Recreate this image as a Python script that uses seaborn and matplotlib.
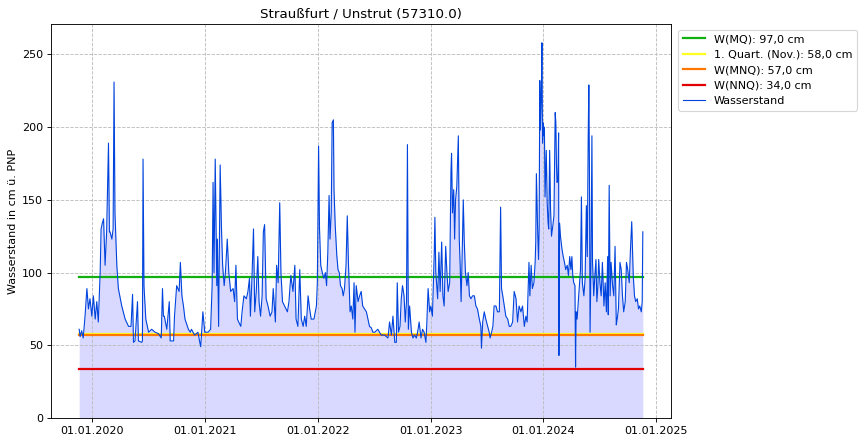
import numpy as np
import pandas as pd
import matplotlib
matplotlib.use("Agg")
import matplotlib.pyplot as plt
import matplotlib.dates as mdates
import seaborn as sns

title = "Straußfurt / Unstrut (57310.0)"
ylabel = "Wasserstand in cm ü. PNP"
base_date = "2020-01-01"

# days since base_date
day_offsets = [
    -43, -40, -35, -30, -24, -18, -13, -8, -2, 3, 9, 14, 19, 25, 28, 32, 36, 41, 46, 52, 55, 57, 63, 67, 70, 73, 79, 84,
    95, 106, 117, 125, 130, 133, 138, 146, 149, 160, 162, 164, 167, 173, 182, 192, 203, 214, 223, 227, 230, 233, 241,
    249, 252, 257, 263, 266, 273, 281, 285, 290, 295, 300, 311, 317,
    321, 331, 342, 348, 351, 358, 364, 375, 383, 388, 391, 394, 398, 403, 405, 409, 414, 418, 422, 427, 431, 437, 442,
    448, 456, 461, 465, 470, 474, 481, 485, 491, 499, 504, 509, 512, 517, 522, 526, 531, 536, 540, 545, 550, 554, 558,
    563, 569, 576, 582, 586, 593, 597, 602, 607, 611, 616, 623, 632, 637, 643, 650, 656, 660, 666, 672, 677, 683,
    688, 693, 699, 704, 709, 718, 726, 729, 733, 736, 740, 745, 750, 755, 759, 763, 767, 770, 774, 777, 781, 783, 787,
    792, 796, 800, 804, 809, 813, 817, 822, 826, 830, 835, 839, 844, 848, 851, 855, 861, 866, 871, 876, 882, 888, 893,
    898, 904, 909, 915, 925, 936, 947, 958, 963, 969, 974, 980, 985, 988, 992, 997, 1001, 1005, 1010, 1014, 1018, 1021,
    1024, 1028, 1034, 1039, 1044, 1050,
    1054, 1059, 1065, 1070, 1075, 1081, 1084, 1088, 1093, 1097, 1102, 1108, 1110, 1113, 1119, 1123, 1127, 1132, 1136,
    1140, 1145, 1149, 1153, 1158, 1162, 1164, 1167, 1171, 1174, 1177, 1181, 1186, 1189, 1192, 1195, 1199, 1202, 1205,
    1209, 1214, 1218, 1222, 1227, 1232, 1238, 1243, 1248, 1254, 1259, 1261, 1265, 1270, 1275, 1281, 1286, 1289, 1294,
    1298, 1302, 1308, 1313, 1319, 1323, 1326, 1330, 1335, 1340, 1346, 1351, 1356, 1362, 1367, 1373, 1378, 1383, 1389,
    1394, 1400, 1405,
    1409, 1415, 1418, 1422, 1426, 1431, 1435, 1437, 1439, 1443, 1446, 1448, 1450, 1452, 1455, 1457, 1459, 1461, 1463,
    1465, 1467, 1471, 1474, 1477, 1479, 1482, 1485, 1488, 1491, 1496, 1498, 1500, 1502, 1504, 1506, 1509, 1511, 1512,
    1514, 1517, 1522, 1526, 1530, 1534, 1539, 1543, 1547, 1551, 1554, 1557, 1560, 1564, 1566, 1568, 1571, 1574, 1578,
    1582, 1585, 1588, 1593, 1597, 1601, 1604, 1607, 1609, 1611, 1613, 1616, 1619, 1621, 1625, 1628, 1632, 1635, 1638,
    1641, 1645, 1649, 1653, 1658, 1662, 1666, 1670, 1672, 1675, 1678, 1681, 1686, 1690, 1694, 1698, 1701, 1705, 1710,
    1714, 1718, 1722, 1727, 1731, 1735, 1740, 1744, 1748, 1753, 1757, 1761, 1766, 1770, 1774, 1779, 1782, 1784,
]

water_level = [
    61, 56, 60, 55, 70, 89, 75, 82, 70, 84, 68, 80, 66, 100, 130, 134, 137, 105, 128, 189, 128, 128, 123, 130, 231, 141,
    105, 89, 77, 68, 63, 63, 85, 52, 53, 80, 53, 52, 53, 178, 91, 68, 59, 61, 59, 58, 55, 89, 70, 70, 61, 80, 53, 53, 53,
    70, 91, 87, 107, 84, 77, 68, 61, 59,
    61, 57, 59, 52, 49, 73, 59, 59, 61, 91, 162, 100, 178, 91, 123, 63, 174, 132, 105, 91, 100, 123, 100, 87, 89, 80,
    105, 68, 66, 63, 73, 84, 82, 87, 96, 70, 96, 130, 73, 87, 111, 80, 70, 84, 128, 133, 82, 77, 70, 73, 89, 66, 105,
    93, 148, 100, 80, 77, 73, 80, 98, 87, 105, 68, 63, 102, 68, 63,
    70, 63, 84, 75, 68, 68, 77, 93, 187, 130, 105, 100, 96, 100, 91, 114, 153, 123, 141, 203, 205, 157, 132, 112, 102,
    100, 91, 89, 84, 89, 105, 139, 105, 73, 77, 68, 93, 59, 91, 80, 84, 87, 77, 75, 73, 68, 63, 62, 59, 59, 61, 57, 57,
    55, 66, 57, 70, 52, 52, 93, 59, 63, 82, 91, 84, 66, 80, 188, 61, 77, 59, 55, 57, 55,
    59, 66, 55, 61, 59, 52, 66, 89, 73, 77, 70, 114, 138, 100, 82, 114, 87, 121, 84, 77, 118, 100, 87, 93, 169, 182,
    141, 157, 123, 150, 159, 194, 123, 105, 80, 118, 150, 123, 100, 91, 100, 84, 82, 84, 84, 77, 75, 68, 63, 48, 66, 73,
    68, 63, 59, 55, 59, 63, 77, 77, 73, 73, 145, 89, 84, 77, 70, 68, 63, 63, 66, 87, 82, 66, 77, 73, 77, 63, 70,
    66, 107, 84, 105, 89, 93, 107, 121, 168, 130, 109, 130, 232, 198, 221, 258, 189, 203, 194, 200, 152, 184, 148, 134,
    130, 184, 143, 125, 130, 139, 175, 210, 203, 175, 162, 164, 196, 43, 134, 125, 116, 111, 107, 102, 105, 98, 111,
    102, 111, 98, 93, 91, 35, 73, 68, 77, 89, 102, 152, 93, 84, 96, 146, 111, 194, 229, 171, 59, 107, 194, 107, 84, 96,
    109, 80, 89, 109, 93, 84, 107, 77, 93, 73, 111, 71, 160, 84, 107, 91, 84, 118, 64, 68, 75, 107, 102, 84, 73, 80,
    107, 102, 93, 116, 135, 98, 84, 80, 82, 75, 77, 73, 80, 128,
]

ref_labels = ["W(MQ): 97,0 cm", "1. Quart. (Nov.): 58,0 cm", "W(MNQ): 57,0 cm", "W(NNQ): 34,0 cm"]
ref_values = [97.0, 58.0, 57.0, 34.0]
ref_colors = ["#11b011", "#ffff22", "#ff7700", "#e00000"]

df = pd.DataFrame({
    "Datum": pd.Timestamp(base_date) + pd.to_timedelta(day_offsets, unit="D"),
    "Wasserstand": water_level,
})

plt.rcParams["font.family"] = ["DejaVu Sans"]
fig = plt.figure(figsize=(863 / 80, 444 / 80), dpi=80)
ax = fig.add_axes([51 / 863, 26 / 444, 620 / 863, 394 / 444])

ax.fill_between(df["Datum"], 0, df["Wasserstand"], color="#0000ff", alpha=0.15, linewidth=0)
start, end = df["Datum"].iloc[0], df["Datum"].iloc[-1]
for lab, val, col in zip(ref_labels, ref_values, ref_colors):
    ax.plot([start, end], [val, val], color=col, linewidth=2, label=lab)
sns.lineplot(data=df, x="Datum", y="Wasserstand", ax=ax, color="#0044dd", linewidth=1, label="Wasserstand")

ax.set_ylim(bottom=0)
ax.grid(True, linestyle="--", color="#bdbdbd", linewidth=0.8)
ax.xaxis.set_major_locator(mdates.YearLocator())
ax.xaxis.set_major_formatter(mdates.DateFormatter("%d.%m.%Y"))
ax.set_yticks([0, 50, 100, 150, 200, 250])
ax.set_xlabel("")
ax.set_ylabel(ylabel)
ax.set_title(title)
ax.legend(loc="upper left", bbox_to_anchor=(1.003, 1.0))

fig.savefig("out.png", dpi=80)
